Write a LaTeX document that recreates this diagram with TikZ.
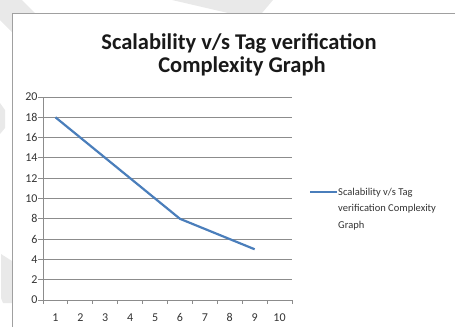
\documentclass[tikz,border=0pt]{standalone}
\usepackage{fontspec}
\setmainfont{Carlito}
\definecolor{seriesblue}{HTML}{4A7EBB}
\definecolor{gridgray}{HTML}{8C8C8C}
\definecolor{framegray}{HTML}{A0A0A0}
\definecolor{markgray}{HTML}{E9E9E9}
\tikzset{
  grid line/.style={gridgray, line width=0.9pt},
  axis line/.style={gridgray, line width=0.9pt},
  series/.style={seriesblue, line width=2.2pt, line join=round},
  ticklabel/.style={font=\fontsize{12}{14}\selectfont, text=black!80, inner sep=1pt},
}
\begin{document}
\begin{tikzpicture}[x=1pt,y=-1pt]
  \useasboundingbox (0,0) rectangle (455,327);
  % faint marks behind the chart
  \fill[markgray]
    (0,0) -- (22,0) -- (35,13) -- (12,13) -- (12,32) -- (0,20) -- cycle
    (172,0) -- (273,0) -- (262,13) -- (228,13) -- cycle
    (0,103) -- (5,110) -- (5,128) -- (0,134) -- cycle
    (1,254) -- (12,261) -- (12,303) -- (3,303) -- (1,298) -- cycle;
  % chart border
  \draw[framegray, line width=0.9pt] (12,327) -- (12,13) -- (455,13);
  % title
  \node[font=\fontsize{22.5}{26}\bfseries, text=black!90] (title1) at (239,43)
    {Scalability v/s Tag verification};
  \node[font=\fontsize{22.5}{26}\bfseries, text=black!90] (title2) at (242,66)
    {Complexity Graph};
  \begin{scope}[shift={(43,300)}, x=24.9pt, y=10.15pt]
    \foreach \v in {2,4,...,20}
      \draw[grid line] (0,\v) -- (10,\v);
    \draw[axis line] (0,20) -- (0,0) -- (10,0);
    \foreach \v in {0,2,...,20}
      \draw[axis line] (-0.2,\v) -- (0,\v) node[ticklabel, anchor=east, xshift=-4pt] (y\v) {\v};
    \foreach \i in {0,...,10}
      \draw[axis line] (\i,0) -- (\i,-0.4);
    \foreach \i in {1,...,10}
      \node[ticklabel] (c\i) at (\i-0.5,-1.7) {\i};
    \draw[series] (0.5,18) -- (1.5,16) -- (2.5,14) -- (3.5,12) -- (4.5,10)
      -- (5.5,8) -- (6.5,7) -- (7.5,6) -- (8.5,5);
  \end{scope}
  % legend
  \coordinate (key) at (310,192);
  \draw[series] (key) -- ++(27,0) coordinate (keyend);
  \node[ticklabel, anchor=north west, align=left, font=\fontsize{10.5}{16.5}\selectfont]
    (legend) at (337,187)
    {Scalability v/s Tag\\verification Complexity\\Graph};
\end{tikzpicture}
\end{document}
